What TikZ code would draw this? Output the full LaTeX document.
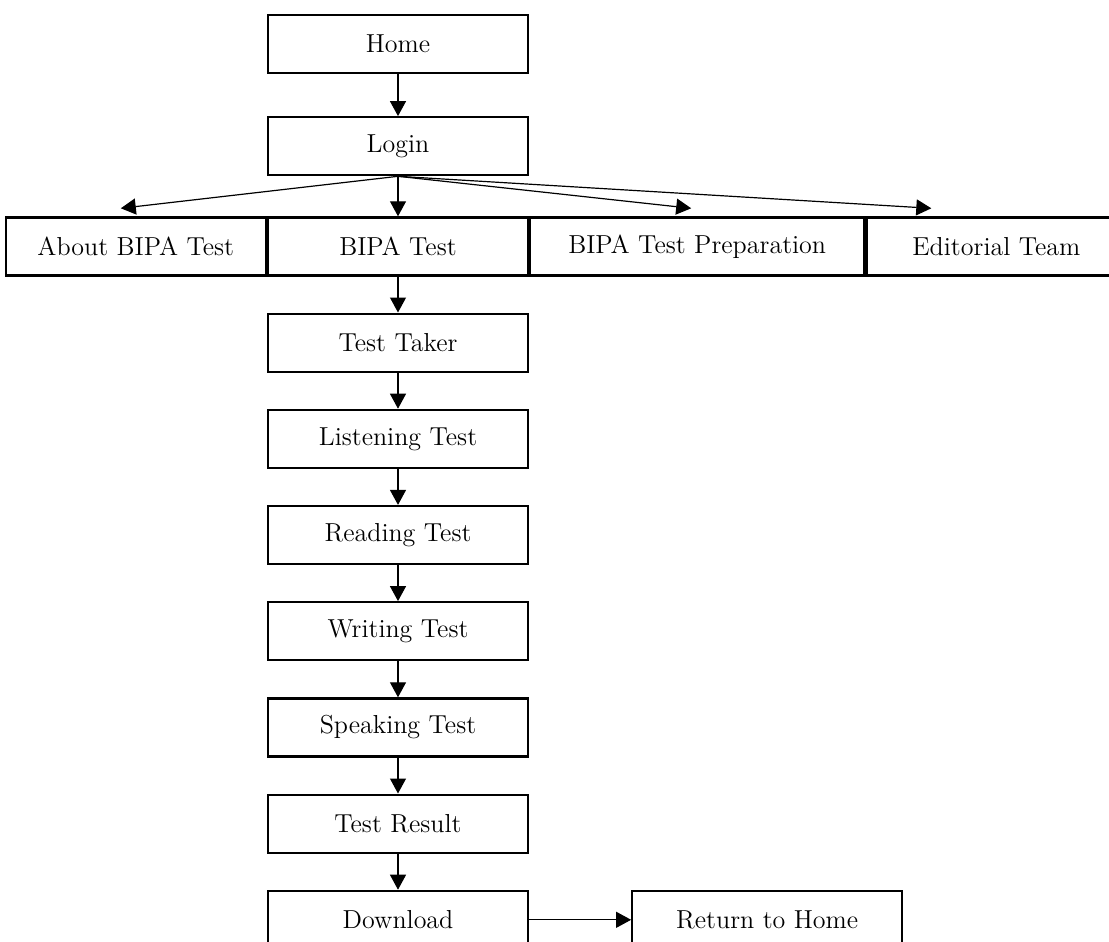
\documentclass[tikz,border=0pt]{standalone}
\usetikzlibrary{positioning}
\usetikzlibrary{arrows.meta}

\begin{document}
\begin{tikzpicture}[
		box/.style={
			rectangle,
			line width=1.1pt,
			minimum height=29pt,
			minimum width=130pt,
			inner sep=0pt,
			font=\fontsize{13}{15}\selectfont
		},
		link/.style={
			-{Triangle[length=7.5pt, width=8pt]},
			line width=0.6pt
		}
	]
		\useasboundingbox (0,0) rectangle (554.5pt,-471pt);
		
		\draw node[draw, box] at (199pt,-22pt) (Home){Home};
		\draw node[draw, box, below=21pt of Home](Login){Login};
		
		\draw node[draw, box, below=20pt of Login](Bipa){BIPA Test};
		\draw node[draw, box, left=0 of Bipa](About){About BIPA Test};
		\draw node[draw, box, right=0 of Bipa, minimum width=167pt](Prep){BIPA Test Preparation};
		\draw node[draw, box, right=0 of Prep](Team){Editorial Team};
		
		\draw node[draw, box, below=18pt of Bipa](Taker){Test Taker};
		\draw node[draw, box, below=18pt of Taker](Listen){Listening Test};
		\draw node[draw, box, below=18pt of Listen](Read){Reading Test};
		\draw node[draw, box, below=18pt of Read](Write){Writing Test};
		\draw node[draw, box, below=18pt of Write](Speak){Speaking Test};
		\draw node[draw, box, below=18pt of Speak](Result){Test Result};
		\draw node[draw, box, below=18pt of Result](Download){Download};
		\draw node[draw, box, right=51pt of Download, minimum width=135pt](Back){Return to Home};
		
		\draw[link] (Home) -- (Login);
		\draw[link] (Login.south) -- ([xshift=-7.5pt, yshift=4pt] About.north);
		\draw[link] (Login.south) -- (Bipa);
		\draw[link] (Login.south) -- ([xshift=-3pt, yshift=4pt] Prep.north);
		\draw[link] (Login.south) -- ([xshift=33pt, yshift=4pt] Team.north west);
		
		\draw[link] (Bipa) -- (Taker);
		\draw[link] (Taker) -- (Listen);
		\draw[link] (Listen) -- (Read);
		\draw[link] (Read) -- (Write);
		\draw[link] (Write) -- (Speak);
		\draw[link] (Speak) -- (Result);
		\draw[link] (Result) -- (Download);
		\draw[link] (Download) -- (Back);
	\end{tikzpicture}
\end{document}
